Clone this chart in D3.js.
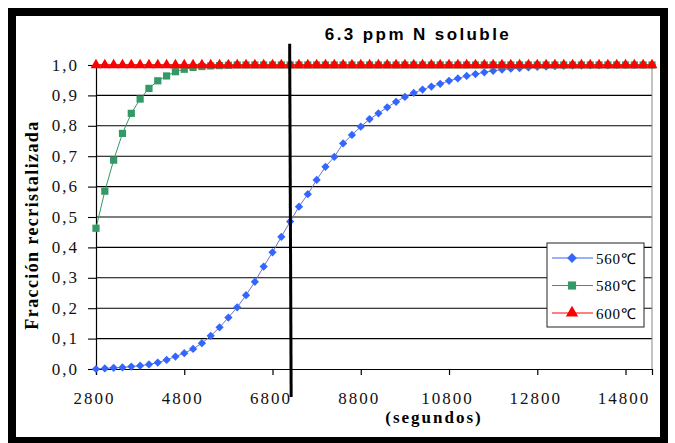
<!DOCTYPE html>
<html>
<head>
<meta charset="utf-8">
<script src="https://cdn.jsdelivr.net/npm/d3@7"></script>
<style>
  body { margin: 0; background: #fff; }
  svg { display: block; }
</style>
</head>
<body>
<svg id="chart"></svg>
<script>
// time axis: 2800 s to 15400 s, one sample every 200 s
const times = d3.range(2800, 15401, 200);
const xTicks = [2800, 4800, 6800, 8800, 10800, 12800, 14800];
const yTicks = [0, 0.1, 0.2, 0.3, 0.4, 0.5, 0.6, 0.7, 0.8, 0.9, 1.0];

const frac560 = [0, 0.002, 0.004, 0.005, 0.008, 0.011, 0.015, 0.021, 0.03, 0.041,
  0.052, 0.066, 0.085, 0.109, 0.137, 0.169, 0.203, 0.243, 0.287, 0.337,
  0.384, 0.435, 0.485, 0.534, 0.575, 0.622, 0.665, 0.698, 0.742, 0.77,
  0.797, 0.822, 0.841, 0.861, 0.879, 0.895, 0.908, 0.919, 0.929, 0.938,
  0.948, 0.956, 0.964, 0.97, 0.976, 0.981, 0.985, 0.988, 0.99, 0.992,
  0.994, 0.995, 0.996, 0.997, 0.998, 0.998, 0.999, 0.999, 0.999, 1.0,
  1.0, 1.0, 1.0, 1.0];
const frac580 = [0.463, 0.585, 0.687, 0.775, 0.841, 0.888, 0.923, 0.948, 0.964, 0.978,
  0.986, 0.992, 0.995, 0.997, 0.998, 0.999, 1.0, 1.0, 1.0, 1.0,
  1.0, 1.0, 1.0, 1.0, 1.0, 1.0, 1.0, 1.0, 1.0, 1.0,
  1.0, 1.0, 1.0, 1.0, 1.0, 1.0, 1.0, 1.0, 1.0, 1.0,
  1.0, 1.0, 1.0, 1.0, 1.0, 1.0, 1.0, 1.0, 1.0, 1.0,
  1.0, 1.0, 1.0, 1.0, 1.0, 1.0, 1.0, 1.0, 1.0, 1.0,
  1.0, 1.0, 1.0, 1.0];
const frac600 = times.map(() => 1.0);

const seriesNames = ['560\u2103', '580\u2103', '600\u2103'];
const markerTime = 7200;      // hand drawn vertical line
const markerSpan = [-0.092, 1.07];

const width = 675;
const height = 443;

const svg = d3.select('#chart')
  .attr('width', width)
  .attr('height', height);

// black frame round the whole chart
svg.append('rect')
  .attr('x', 12).attr('y', 12)
  .attr('width', 652).attr('height', 429)
  .attr('fill', '#fff')
  .attr('stroke', '#000')
  .attr('stroke-width', 8);

const x = d3.scaleLinear().domain([2800, 15400]).range([96, 652]);
const y = d3.scaleLinear().domain([0, 1]).range([369, 65]);

// gridlines
svg.append('g')
  .selectAll('line')
  .data(yTicks.slice(1))
  .enter().append('line')
  .attr('x1', x(2800)).attr('x2', x(15400))
  .attr('y1', d => y(d)).attr('y2', d => y(d))
  .attr('stroke', '#000')
  .attr('stroke-width', 1.1);

// right edge of plot area
svg.append('line')
  .attr('x1', x(15400)).attr('x2', x(15400))
  .attr('y1', y(1)).attr('y2', y(0))
  .attr('stroke', '#888');

const serif = "'Liberation Serif', 'Times New Roman', serif";

// y axis
const yAxis = svg.append('g')
  .attr('transform', `translate(${x(2800)},0)`)
  .call(d3.axisLeft(y).tickValues(yTicks).tickSize(8).tickPadding(9)
    .tickFormat(d => d3.format('.1f')(d).replace('.', ',')));
yAxis.select('.domain').attr('stroke', '#000').attr('stroke-width', 1.2);
yAxis.selectAll('.tick line').attr('stroke', '#000').attr('stroke-width', 1.1);
yAxis.selectAll('.tick text')
  .attr('font-family', serif)
  .attr('font-size', 17)
  .attr('letter-spacing', 2)
  .attr('dy', '0.3em')
  .attr('fill', '#111');

// x axis
const xAxis = svg.append('g')
  .attr('transform', `translate(0,${y(0)})`)
  .call(d3.axisBottom(x).tickValues(xTicks).tickSize(6).tickPadding(17)
    .tickFormat(d3.format('d')));
xAxis.select('.domain').attr('stroke', '#000').attr('stroke-width', 1.2);
xAxis.selectAll('.tick line').attr('stroke', '#000').attr('stroke-width', 1.2);
xAxis.selectAll('.tick text')
  .attr('font-family', serif)
  .attr('font-size', 17)
  .attr('letter-spacing', 2)
  .attr('dx', -2)
  .attr('fill', '#111');

// diamonds are squares turned by 45 degrees
const series = [
  { name: seriesNames[0], values: frac560, line: '#6f73c8', fill: '#3366ff', shape: d3.symbolSquare, size: 34, rot: 45 },
  { name: seriesNames[1], values: frac580, line: '#339966', fill: '#339966', shape: d3.symbolSquare, size: 52, rot: 0 },
  { name: seriesNames[2], values: frac600, line: '#ff0000', fill: '#ff0000', shape: d3.symbolTriangle, size: 52, rot: 0 }
];

const line = d3.line()
  .x((d, i) => x(times[i]))
  .y(d => y(d));

series.forEach(s => {
  const g = svg.append('g');
  g.append('path')
    .attr('d', line(s.values))
    .attr('fill', 'none')
    .attr('stroke', s.line)
    .attr('stroke-width', 1);
  g.selectAll('path.m')
    .data(s.values)
    .enter().append('path')
    .attr('class', 'm')
    .attr('d', d3.symbol().type(s.shape).size(s.size))
    .attr('transform', (d, i) => `translate(${x(times[i])},${y(d)}) rotate(${s.rot})`)
    .attr('fill', s.fill);
});

// vertical marker line
svg.append('line')
  .attr('x1', x(markerTime) - 0.5).attr('x2', x(markerTime) + 1)
  .attr('y1', y(markerSpan[1])).attr('y2', y(markerSpan[0]))
  .attr('stroke', '#000')
  .attr('stroke-width', 3);

// title
svg.append('text')
  .attr('x', 418).attr('y', 40)
  .attr('text-anchor', 'middle')
  .attr('font-family', "'Liberation Sans', Arial, sans-serif")
  .attr('font-weight', 'bold')
  .attr('font-size', 17)
  .attr('letter-spacing', 2.4)
  .text('6.3 ppm N soluble');

// axis titles
svg.append('text')
  .attr('transform', 'translate(38,225) rotate(-90)')
  .attr('text-anchor', 'middle')
  .attr('font-family', serif)
  .attr('font-weight', 'bold')
  .attr('font-size', 18)
  .attr('letter-spacing', 1.4)
  .text('Fracción recristalizada');

svg.append('text')
  .attr('x', 434).attr('y', 423)
  .attr('text-anchor', 'middle')
  .attr('font-family', serif)
  .attr('font-weight', 'bold')
  .attr('font-size', 17)
  .attr('letter-spacing', 2)
  .text('(segundos)');

// legend
const legend = svg.append('g').attr('transform', 'translate(547,243)');
legend.append('rect')
  .attr('width', 97).attr('height', 84)
  .attr('fill', '#fff')
  .attr('stroke', '#222')
  .attr('stroke-width', 1);

const item = legend.selectAll('g.item')
  .data(series)
  .enter().append('g')
  .attr('class', 'item')
  .attr('transform', (d, i) => `translate(0,${15 + i * 27.5})`);
item.append('line')
  .attr('x1', 5).attr('x2', 46)
  .attr('stroke', d => d.name === seriesNames[0] ? '#3366ff' : d.line)
  .attr('stroke-width', 1);
item.append('path')
  .attr('d', d => d3.symbol().type(d.shape).size(d.size + 14)())
  .attr('transform', d => `translate(25,0) rotate(${d.rot})`)
  .attr('fill', d => d.fill);
item.append('text')
  .attr('x', 49).attr('y', 5.5)
  .attr('font-family', serif)
  .attr('font-size', 15)
  .attr('letter-spacing', 0.8)
  .text(d => d.name);
</script>
</body>
</html>
